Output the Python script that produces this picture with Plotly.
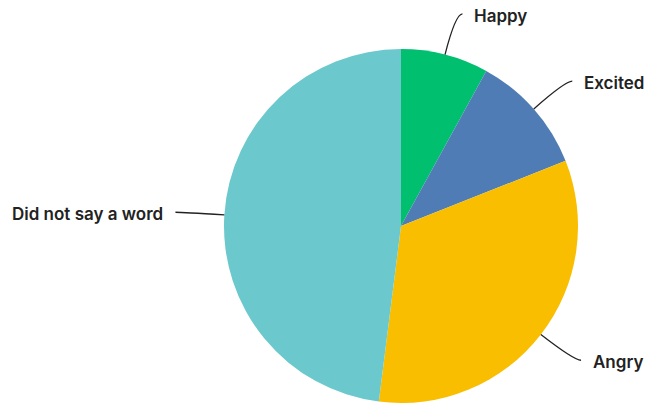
import math
import plotly.graph_objects as go

labels = ["Happy", "Excited", "Angry", "Did not say a word"]
values = [8, 11, 33, 48]
colors = ["#00BF6F", "#507CB6", "#F9BE00", "#6BC8CD"]

W, H = 645, 404
cx, cy, R = 401, 226, 177  # pie centre and radius in pixels

fig = go.Figure(go.Pie(
    labels=labels,
    values=values,
    marker=dict(colors=colors, line=dict(width=0)),
    sort=False,
    direction="clockwise",
    rotation=0,
    textinfo="none",
    hoverinfo="label+percent",
    showlegend=False,
    domain=dict(x=[(cx - R) / W, (cx + R) / W],
                y=[(H - cy - R) / H, (H - cy + R) / H]),
))


def px(x, y):
    return x / W, 1 - y / H


# curved leader lines and outside labels at each slice's mid-angle
total = sum(values)
acc = 0
shapes, annotations = [], []
L, h, gap = 42, 7, 10
for lab, v in zip(labels, values):
    mid = (acc + v / 2) / total * 2 * math.pi
    acc += v
    dx, dy = math.sin(mid), -math.cos(mid)
    side = 1 if dx >= 0 else -1
    ex, ey = cx + R * dx, cy + R * dy
    qx, qy = cx + (R + L) * dx, cy + (R + L) * dy
    tx, ty = qx + side * h, qy
    p0, p1, p2 = px(ex, ey), px(qx, qy), px(tx, ty)
    shapes.append(dict(
        type="path", xref="paper", yref="paper",
        path=f"M {p0[0]},{p0[1]} Q {p1[0]},{p1[1]} {p2[0]},{p2[1]}",
        line=dict(color="#222222", width=1.3),
    ))
    ax, ay = px(tx + side * gap, ty + 2)
    annotations.append(dict(
        x=ax, y=ay, xref="paper", yref="paper", text=lab, showarrow=False,
        xanchor="left" if side > 0 else "right", yanchor="middle",
        font=dict(family="Inter", size=17, color="#222222", weight=600),
    ))

fig.update_layout(
    width=W, height=H,
    margin=dict(l=0, r=0, t=0, b=0),
    paper_bgcolor="white",
    plot_bgcolor="white",
    shapes=shapes,
    annotations=annotations,
)

fig.write_html("out.html")
